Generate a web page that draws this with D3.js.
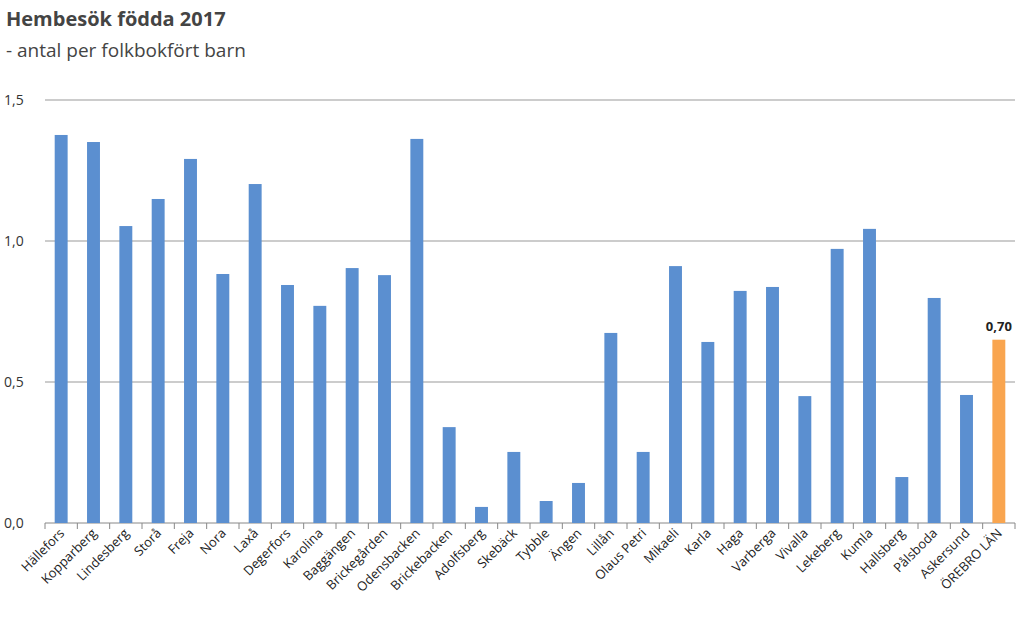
<!DOCTYPE html>
<html><head><meta charset="utf-8">
<script src="https://cdn.jsdelivr.net/npm/d3@7"></script>
<style>body{margin:0;background:#fff;font-family:"Open Sans","Noto Sans",sans-serif}</style>
</head><body><svg id="c" width="1024" height="633"></svg>
<script>
const categories=["Hällefors","Kopparberg","Lindesberg","Storå","Freja","Nora","Laxå","Degerfors","Karolina","Baggängen","Brickegården","Odensbacken","Brickebacken","Adolfsberg","Skebäck","Tybble","Ängen","Lillån","Olaus Petri","Mikaeli","Karla","Haga","Varberga","Vivalla","Lekeberg","Kumla","Hallsberg","Pålsboda","Askersund","ÖREBRO LÄN"];
const values=[1.376,1.351,1.053,1.149,1.291,0.883,1.202,0.844,0.770,0.904,0.879,1.362,0.340,0.057,0.252,0.078,0.142,0.674,0.252,0.911,0.642,0.823,0.837,0.450,0.972,1.043,0.163,0.798,0.454,0.65];
const yTicks=[0,0.5,1.0,1.5];
const svg=d3.select("#c");
const x=d3.scaleBand().domain(categories).range([45,1015]).paddingInner(0.6).paddingOuter(0.3);
const y=d3.scaleLinear().domain([0,1.5]).range([523,100]);
const fmt=d=>d3.format(".1f")(d).replace(".",",");
svg.append("g").selectAll("line").data(yTicks).join("line")
 .attr("x1",45).attr("x2",1015).attr("y1",d=>y(d)).attr("y2",d=>y(d))
 .attr("stroke",d=>d===0?"#888":"#999").attr("stroke-width",1);
svg.append("g").selectAll("text").data(yTicks).join("text")
 .attr("x",4).attr("y",d=>y(d)+5).attr("font-size",14).attr("fill","#333").text(fmt);
svg.append("g").selectAll("line").data(categories.concat(["_end"])).join("line")
 .attr("x1",(d,i)=>45+i*(970/30)).attr("x2",(d,i)=>45+i*(970/30))
 .attr("y1",523).attr("y2",529).attr("stroke","#888");
svg.append("g").selectAll("rect").data(values).join("rect")
 .attr("x",(d,i)=>x(categories[i])).attr("width",x.bandwidth())
 .attr("y",d=>y(d)).attr("height",d=>y(0)-y(d))
 .attr("fill",(d,i)=>i===categories.length-1?"#f9a54f":"#5b8fd0");
const li=categories.length-1;
svg.append("text").attr("x",x(categories[li])+x.bandwidth()/2).attr("y",y(values[li])-9)
 .attr("text-anchor","middle").attr("font-size",13).attr("font-weight","bold").attr("fill","#222").text(fmt(values[li]).replace(/,(\d)$/,",$10").replace(",60",",65"));
svg.append("g").selectAll("text").data(categories).join("text")
 .attr("transform",d=>`translate(${x(d)+x.bandwidth()/2+4},${534}) rotate(-45)`)
 .attr("text-anchor","end").attr("font-size",13).attr("fill","#222").text(d=>d);
svg.append("text").attr("x",6).attr("y",26).attr("font-size",20).attr("font-weight","bold").attr("fill","#444").text("Hembesök födda 2017");
svg.append("text").attr("x",6).attr("y",57).attr("font-size",19).attr("fill","#444").text("- antal per folkbokfört barn");
</script></body></html>
